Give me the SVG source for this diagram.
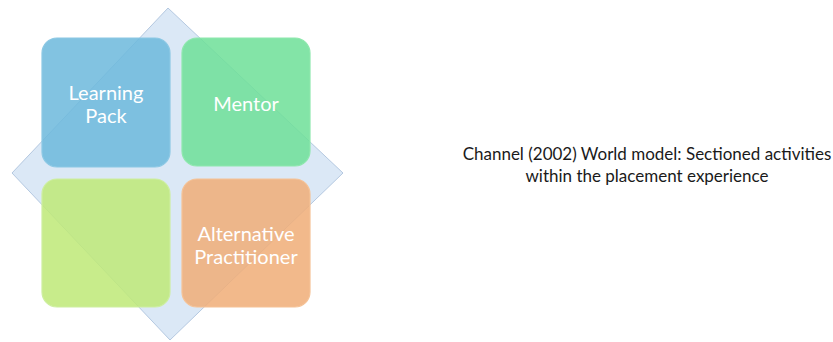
<svg xmlns="http://www.w3.org/2000/svg" width="833" height="342" viewBox="0 0 833 342">
<style>
.box{stroke-width:1.2;fill-opacity:0.86}
.lbl{font-family:Lato,"Open Sans","Liberation Sans",sans-serif;font-size:20px;fill:#ffffff;text-anchor:middle}
.cap{font-family:Lato,"Open Sans","Liberation Sans",sans-serif;font-size:17px;fill:#1a1a1a;text-anchor:middle}
</style>
<rect width="833" height="342" fill="#ffffff"/>
<g id="diamond">
<polygon points="168,8 343,173 170,340 12,173" fill="#dbe8f6" stroke="#b4c8e0" stroke-width="1"/>
</g>
<g id="connectors"></g>
<g id="learning-pack">
<rect class="box" x="42" y="38" width="128" height="129" rx="15" fill="#6db9dc" stroke="#8cc8e4"/>
<text class="lbl" x="106" y="100">Learning</text>
<text class="lbl" x="106" y="123">Pack</text>
</g>
<g id="mentor">
<rect class="box" x="182" y="38" width="128" height="128" rx="15" fill="#6fdf98" stroke="#8ee8ad"/>
<text class="lbl" x="246" y="111">Mentor</text>
</g>
<g id="blank">
<rect class="box" x="42" y="179" width="128" height="128" rx="15" fill="#bfe978" stroke="#cdeea0"/>
</g>
<g id="alternative-practitioner">
<rect class="box" x="182" y="179" width="128" height="128" rx="15" fill="#f0ad78" stroke="#f5c296"/>
<text class="lbl" x="246" y="241">Alternative</text>
<text class="lbl" x="246" y="264">Practitioner</text>
</g>
<g id="caption">
<text class="cap" x="647" y="160">Channel (2002) World model: Sectioned activities</text>
<text class="cap" x="647" y="182">within the placement experience</text>
</g>
</svg>
